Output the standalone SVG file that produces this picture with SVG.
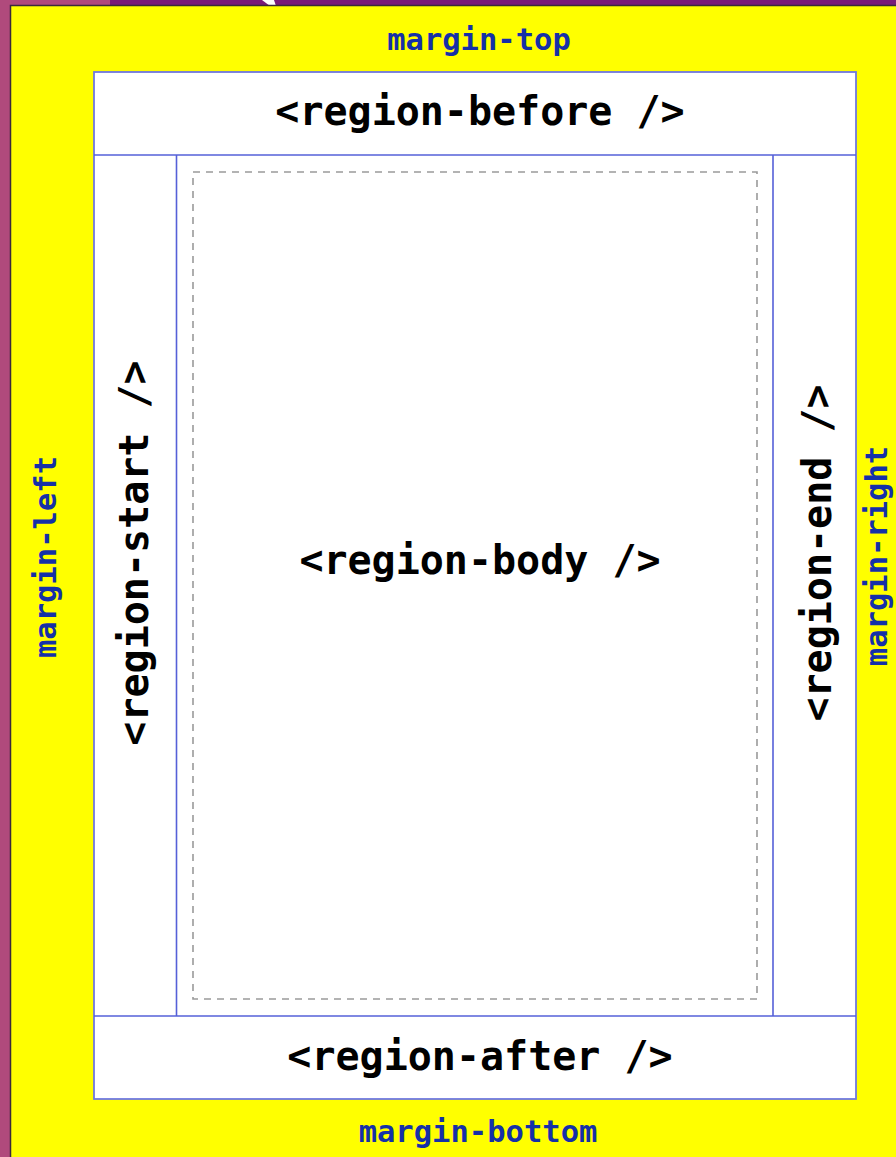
<svg xmlns="http://www.w3.org/2000/svg" width="896" height="1157" viewBox="0 0 896 1157">
  <style>
    .margin { font-family: "DejaVu Sans Mono", "Liberation Mono", monospace; font-weight: bold; font-size: 30.5px; fill: #1530A8; text-anchor: middle; }
    .region { font-family: "DejaVu Sans Mono", "Liberation Mono", monospace; font-weight: bold; font-size: 40px; fill: #000000; text-anchor: middle; }
    .rline { stroke: #5560D8; stroke-width: 1.6; fill: none; }
  </style>
  <g id="background">
    <rect x="0" y="0" width="896" height="1157" fill="#B04A7C"/>
    <rect x="110" y="0" width="786" height="6" fill="#7A1B78"/>
    <polygon points="262,0 274,0 276,6 270,6" fill="#FFFFFF"/>
    <rect x="10.5" y="5.5" width="900" height="1160" fill="#FFFF00" stroke="#3A2A3A" stroke-width="1.5"/>
  </g>
  <g id="margins">
    <text class="margin" x="479" y="50">margin-top</text>
    <text class="margin" x="478" y="1142">margin-bottom</text>
    <text class="margin" transform="translate(56,557) rotate(-90)">margin-left</text>
    <text class="margin" transform="translate(887,556) rotate(-90)">margin-right</text>
  </g>
  <g id="page">
    <rect x="94" y="72" width="762" height="1027" fill="#FFFFFF" stroke="#6F78E0" stroke-width="1.8"/>
  </g>
  <g id="region-before">
    <line class="rline" x1="94" y1="155" x2="856" y2="155"/>
    <text class="region" x="480" y="125">&lt;region-before /&gt;</text>
  </g>
  <g id="region-after">
    <line class="rline" x1="94" y1="1016" x2="856" y2="1016"/>
    <text class="region" x="480" y="1070">&lt;region-after /&gt;</text>
  </g>
  <g id="region-start">
    <line class="rline" x1="176.5" y1="155" x2="176.5" y2="1016"/>
    <text class="region" transform="translate(148,553) rotate(-90)">&lt;region-start /&gt;</text>
  </g>
  <g id="region-end">
    <line class="rline" x1="773" y1="155" x2="773" y2="1016"/>
    <text class="region" transform="translate(831,553) rotate(-90)">&lt;region-end /&gt;</text>
  </g>
  <g id="region-body">
    <rect x="193" y="172" width="564" height="827" fill="none" stroke="#9A9A9A" stroke-width="1.6" stroke-dasharray="7,6"/>
    <text class="region" x="480" y="574">&lt;region-body /&gt;</text>
  </g>
</svg>
